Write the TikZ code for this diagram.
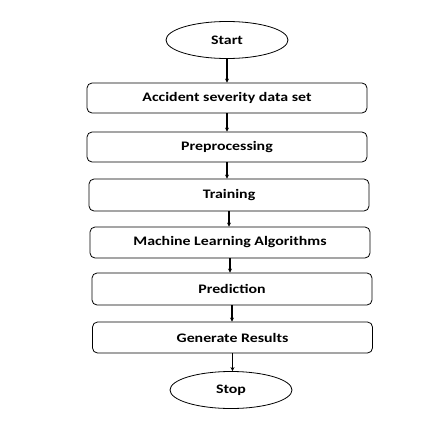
\documentclass[tikz,border=0pt]{standalone}
\usepackage{fontspec}
\setmainfont{Carlito}[FakeStretch=1.22]
\usetikzlibrary{shapes.geometric,arrows.meta}
\begin{document}
\begin{tikzpicture}[x=1pt,y=-1pt,
  procbox/.style={draw=black,line width=0.8pt,rounded corners=5pt,minimum width=280pt,minimum height=31pt,inner sep=0pt,font=\bfseries\fontsize{13}{15}\selectfont},
  term/.style={draw=black,line width=0.8pt,ellipse,minimum width=122pt,minimum height=37pt,inner sep=0pt,font=\bfseries\fontsize{13}{15}\selectfont},
  conn/.style={line width=1.5pt,-{Stealth[length=4pt,width=4pt]}}]
\useasboundingbox (0,0) rectangle (422,442);
\node[term] (start) at (227,40) {Start};
\node[procbox,minimum height=30pt] (data) at (227,98) {Accident severity data set};
\node[procbox,minimum height=30pt] (pre) at (227,147) {Preprocessing};
\node[procbox,minimum height=32pt] (train) at (229,195) {Training};
\node[procbox] (ml) at (230,242.5) {Machine Learning Algorithms};
\node[procbox,minimum height=32pt] (pred) at (232,289) {Prediction};
\node[procbox] (gen) at (232.5,337.5) {Generate Results};
\node[term] (stop) at (231,390) {Stop};
\draw[conn] (start.south) -- (start.south |- data.north);
\draw[conn] (data.south) -- (data.south |- pre.north);
\draw[conn] (pre.south) -- (pre.south |- train.north);
\draw[conn] (train.south) -- (train.south |- ml.north);
\draw[conn] (ml.south) -- (ml.south |- pred.north);
\draw[conn] (pred.south) -- (pred.south |- gen.north);
\draw[conn] (gen.south) -- (gen.south |- stop.north);
\end{tikzpicture}
\end{document}
